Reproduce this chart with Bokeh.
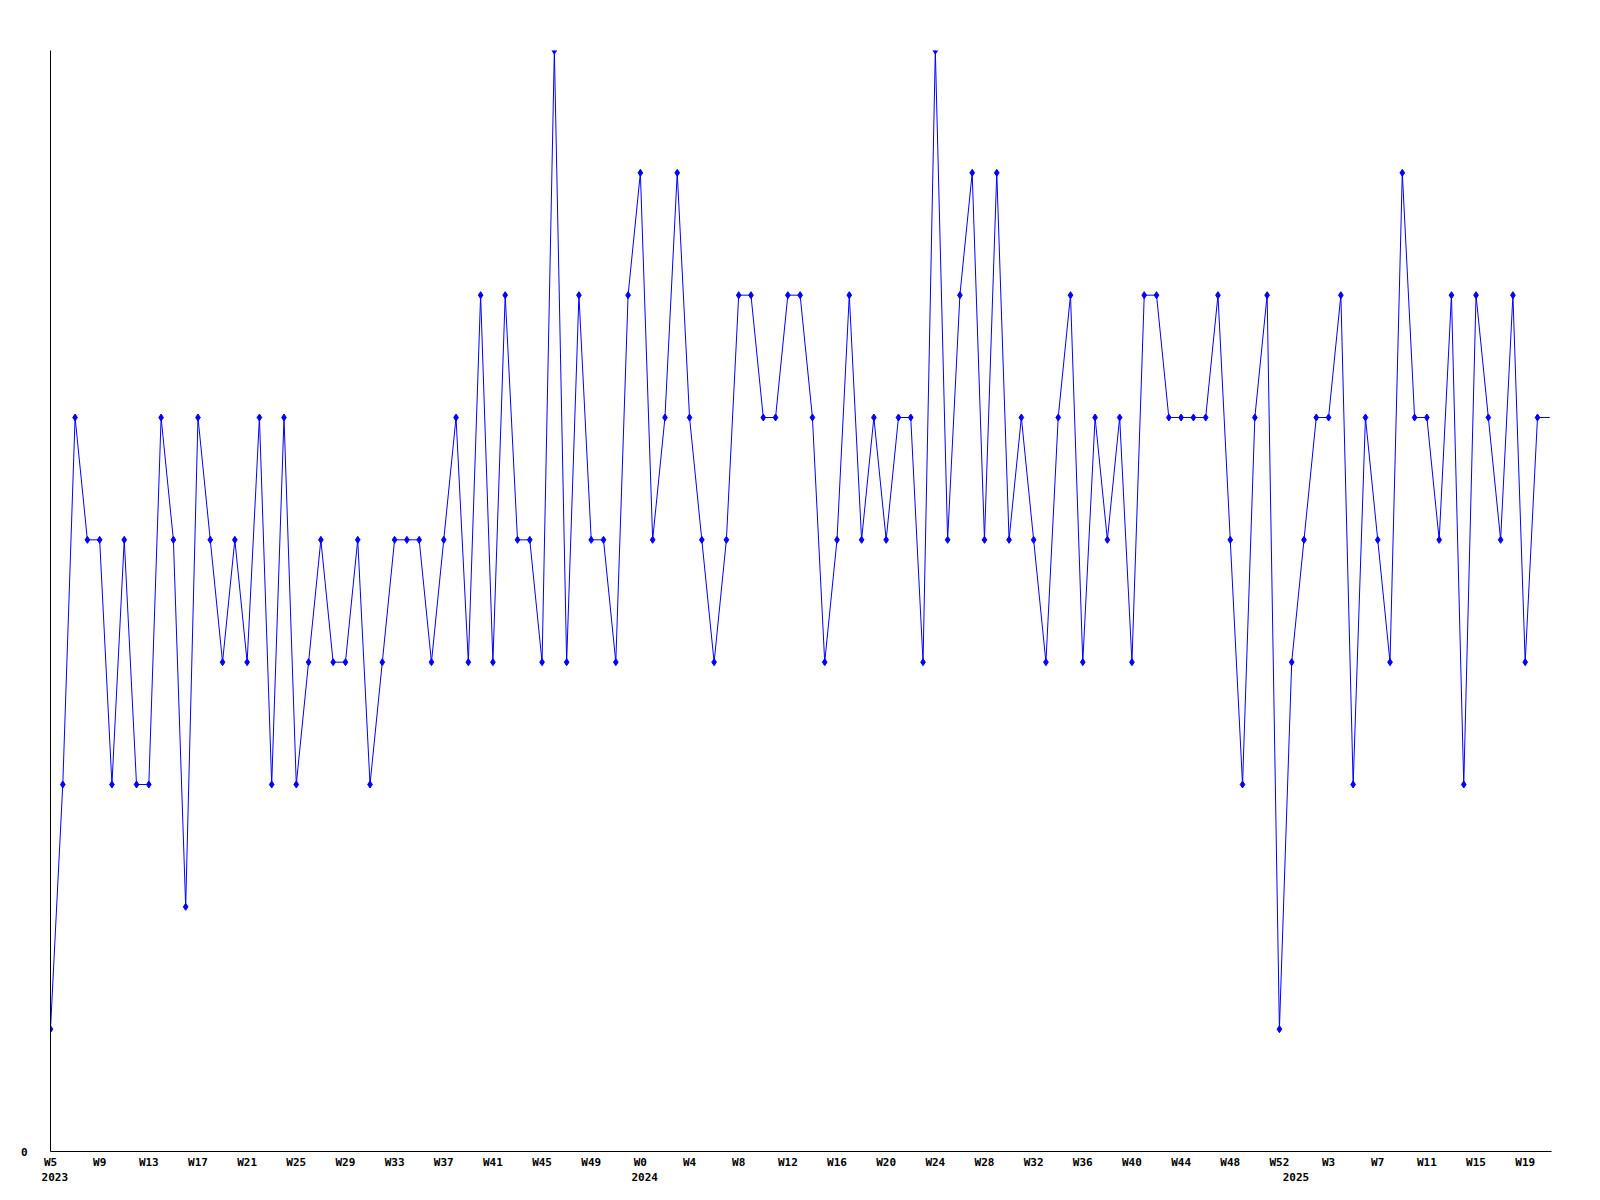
from bokeh.plotting import figure
from bokeh.models import FixedTicker, LinearAxis, Range1d, ColumnDataSource, CDSView, IndexFilter
from bokeh.embed import file_html
from bokeh.resources import INLINE

# ---- data ----
year_names = ["2023", "2024", "2025"]
year_first_week = [5, 0, 0]
year_last_week = [52, 52, 21]

values = [
    1, 3, 6, 5, 5, 3, 5, 3, 3, 6,
    5, 2, 6, 5, 4, 5, 4, 6, 3, 6,
    3, 4, 5, 4, 4, 5, 3, 4, 5, 5,
    5, 4, 5, 6, 4, 7, 4, 7, 5, 5,
    4, 9, 4, 7, 5, 5, 4, 7, 8, 5,
    6, 8, 6, 5, 4, 5, 7, 7, 6, 6,
    7, 7, 6, 4, 5, 7, 5, 6, 5, 6,
    6, 4, 9, 5, 7, 8, 5, 8, 5, 6,
    5, 4, 6, 7, 4, 6, 5, 6, 4, 7,
    7, 6, 6, 6, 6, 7, 5, 3, 6, 7,
    1, 4, 5, 6, 6, 7, 3, 6, 5, 4,
    8, 6, 6, 5, 7, 3, 7, 6, 5, 7,
    4, 6, 6,
]
complete_weeks = 122  # last value is the running (partial) week

week_labels = []
year_start_index = []
for name, w0, w1 in zip(year_names, year_first_week, year_last_week):
    year_start_index.append(len(week_labels))
    week_labels += ["W%d" % w for w in range(w0, w1 + 1)]

idx = list(range(len(values)))
src = ColumnDataSource(dict(x=idx, y=values, week=week_labels))

FONT = "DejaVu Sans Mono"

p = figure(width=1584, height=1183, output_backend="svg", toolbar_location=None,
           x_range=Range1d(0, 122.14), y_range=Range1d(0, 9),
           min_border_left=50, min_border_right=33, min_border_top=50, min_border_bottom=30)
p.outline_line_color = None
p.xgrid.visible = False
p.ygrid.visible = False
p.background_fill_color = "white"
p.border_fill_color = "white"

p.line("x", "y", source=src, line_color="#0000ff", line_width=1)
view = CDSView(filter=IndexFilter(list(range(complete_weeks))))
p.scatter("x", "y", source=src, view=view, marker="diamond", size=7,
          fill_color="#0000ff", line_color="#0000ff")

tick_idx = list(range(0, len(values), 4))
xa = p.xaxis[0]
xa.ticker = FixedTicker(ticks=tick_idx)
xa.major_label_overrides = {i: week_labels[i] for i in tick_idx}
xa.major_tick_out = 0
xa.major_tick_in = 0
xa.minor_tick_out = 0
xa.minor_tick_in = 0
xa.major_label_standoff = 4
xa.axis_line_color = "black"
xa.axis_line_width = 1
xa.major_label_text_font = FONT
xa.major_label_text_font_style = "bold"
xa.major_label_text_font_size = "11px"
xa.major_label_text_color = "black"

ya = p.yaxis[0]
ya.ticker = FixedTicker(ticks=[0])
ya.major_tick_out = 0
ya.major_tick_in = 0
ya.minor_tick_out = 0
ya.minor_tick_in = 0
ya.major_label_standoff = 23
ya.axis_line_color = "black"
ya.major_label_text_font = FONT
ya.major_label_text_font_style = "bold"
ya.major_label_text_font_size = "11px"
ya.major_label_text_color = "black"

year_ticks = [i + 0.35 for i in year_start_index]
yax = LinearAxis(ticker=FixedTicker(ticks=year_ticks),
                 major_label_overrides={t: n for t, n in zip(year_ticks, year_names)})
yax.axis_line_color = None
yax.major_tick_out = 0
yax.major_tick_in = 0
yax.minor_tick_out = 0
yax.minor_tick_in = 0
yax.major_label_standoff = 1
yax.major_label_text_font = FONT
yax.major_label_text_font_style = "bold"
yax.major_label_text_font_size = "11px"
yax.major_label_text_color = "black"
p.add_layout(yax, "below")

open("out.html", "w").write(file_html(p, INLINE))
